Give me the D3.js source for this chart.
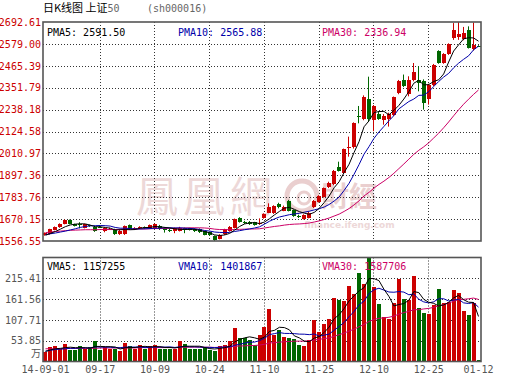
<!DOCTYPE html>
<html><head><meta charset="utf-8">
<script src="https://cdn.jsdelivr.net/npm/d3@7"></script>
<style>
html,body{margin:0;padding:0;background:#fff;}
svg{display:block;}
text{font-family:"DejaVu Sans Mono",monospace;font-size:10px;}
</style></head><body>
<svg id="c" width="530" height="391"></svg>
<script>
// ---------- data ----------
const dates = [
"2014-09-01","2014-09-02","2014-09-03","2014-09-04","2014-09-05","2014-09-09","2014-09-10","2014-09-11","2014-09-12",
"2014-09-15","2014-09-16","2014-09-17","2014-09-18","2014-09-19","2014-09-22","2014-09-23","2014-09-24","2014-09-25","2014-09-26",
"2014-09-29","2014-09-30","2014-10-08","2014-10-09","2014-10-10","2014-10-13","2014-10-14","2014-10-15","2014-10-16","2014-10-17",
"2014-10-20","2014-10-21","2014-10-22","2014-10-23","2014-10-24","2014-10-27","2014-10-28","2014-10-29","2014-10-30","2014-10-31",
"2014-11-03","2014-11-04","2014-11-05","2014-11-06","2014-11-07","2014-11-10","2014-11-11","2014-11-12","2014-11-13","2014-11-14",
"2014-11-17","2014-11-18","2014-11-19","2014-11-20","2014-11-21","2014-11-24","2014-11-25","2014-11-26","2014-11-27","2014-11-28",
"2014-12-01","2014-12-02","2014-12-03","2014-12-04","2014-12-05","2014-12-08","2014-12-09","2014-12-10","2014-12-11","2014-12-12",
"2014-12-15","2014-12-16","2014-12-17","2014-12-18","2014-12-19","2014-12-22","2014-12-23","2014-12-24","2014-12-25","2014-12-26",
"2014-12-29","2014-12-30","2014-12-31","2015-01-05","2015-01-06","2015-01-07","2015-01-08","2015-01-09","2015-01-12"];
const open = [1588,1593,1615,1628,1645,1666,1643,1643,1626,1638,1630,1631,1609,1617,1617,1591,1591,1639,1619,1624,1629,1625,1626,1636,1625,1614,1606,1609,1622,1622,1619,1619,1606,1603,1582,1568,1591,1608,1625,1675,1657,1657,1653,1643,1675,1704,1700,1748,1714,1765,1717,1688,1671,1677,1731,1760,1786,1835,1851,1942,1911,2040,2042,2204,2188,2292,2184,2217,2186,2190,2212,2324,2393,2319,2393,2393,2388,2295,2367,2541,2480,2527,2610,2617,2603,2651,2551,2570];
const high = [1601,1620,1632,1648,1668,1668,1646,1654,1646,1641,1633,1636,1627,1626,1620,1614,1637,1642,1628,1633,1632,1642,1646,1640,1628,1620,1626,1630,1626,1625,1622,1622,1609,1606,1585,1592,1620,1634,1673,1680,1661,1660,1656,1674,1700,1752,1742,1755,1740,1770,1720,1693,1695,1708,1769,1794,1834,1864,1925,1968,2036,2098,2172,2257,2312,2409,2262,2230,2215,2222,2306,2392,2420,2411,2480,2463,2395,2372,2475,2546,2531,2582,2687,2692,2667,2670,2690,2572];
const low = [1584,1590,1612,1625,1643,1643,1632,1622,1622,1630,1604,1624,1602,1614,1588,1588,1588,1614,1615,1620,1620,1622,1623,1614,1600,1603,1597,1606,1597,1611,1603,1598,1586,1583,1557,1565,1588,1605,1622,1652,1645,1640,1636,1640,1672,1701,1697,1726,1711,1710,1682,1676,1668,1674,1728,1756,1782,1831,1846,1917,1906,1994,2036,2167,2183,2175,2126,2185,2160,2150,2205,2318,2355,2307,2385,2333,2238,2264,2360,2476,2476,2522,2600,2600,2598,2555,2545,2564];
const close = [1597,1617,1629,1645,1665,1646,1635,1637,1643,1633,1608,1628,1623,1621,1591,1611,1634,1617,1625,1628,1625,1639,1643,1617,1613,1606,1623,1626,1614,1614,1606,1601,1589,1586,1560,1589,1617,1630,1669,1657,1650,1643,1639,1648,1697,1735,1739,1731,1735,1714,1686,1680,1692,1704,1765,1790,1830,1859,1920,1920,2032,2043,2167,2199,2305,2188,2257,2191,2203,2215,2302,2388,2359,2393,2432,2376,2272,2367,2471,2480,2527,2578,2653,2630,2637,2559,2573,2566];
const ma5 = [1586,1596,1606,1618,1631,1640,1644,1646,1645,1639,1631,1630,1627,1623,1614,1615,1616,1615,1616,1623,1626,1627,1632,1630,1627,1624,1620,1617,1616,1617,1617,1612,1605,1599,1588,1585,1588,1596,1613,1632,1645,1650,1652,1647,1655,1672,1692,1710,1727,1731,1721,1709,1701,1695,1705,1726,1756,1790,1833,1864,1912,1955,2016,2072,2149,2180,2223,2228,2229,2211,2234,2260,2293,2331,2375,2390,2366,2368,2384,2393,2423,2485,2542,2574,2605,2611,2610,2593];
const ma10 = [1590,1594,1598,1603,1608,1614,1620,1627,1632,1635,1636,1637,1636,1634,1627,1623,1623,1621,1619,1619,1620,1621,1623,1623,1625,1625,1624,1625,1623,1622,1620,1616,1611,1608,1603,1601,1600,1601,1606,1610,1615,1619,1624,1630,1644,1659,1671,1681,1687,1693,1697,1700,1706,1711,1718,1724,1733,1746,1764,1785,1819,1856,1903,1953,2007,2046,2089,2122,2151,2180,2207,2242,2261,2280,2293,2312,2313,2331,2358,2384,2407,2426,2455,2479,2499,2517,2548,2567];
const ma30 = [1600,1603,1606,1608,1610,1612,1613,1614,1615,1615,1615,1616,1616,1616,1616,1617,1617,1618,1618,1619,1619,1620,1621,1621,1622,1622,1623,1623,1624,1625,1625,1625,1624,1622,1618,1616,1616,1615,1616,1617,1618,1619,1619,1620,1624,1628,1632,1635,1639,1642,1644,1645,1647,1650,1655,1661,1668,1676,1686,1696,1710,1725,1744,1765,1790,1809,1831,1850,1867,1886,1908,1932,1956,1981,2006,2027,2045,2066,2091,2116,2144,2174,2206,2237,2266,2292,2317,2340];
// volume in 万
const volume = [25,37,40,33,45,30,31,40,33,37,54,31,37,33,33,28,47,40,33,43,33,40,43,33,33,33,33,54,45,33,33,33,37,31,28,40,43,54,87,61,61,56,42,68,89,135,69,82,64,60,57,43,40,56,107,77,97,109,164,159,157,195,175,228,201,275,194,149,116,109,151,213,161,159,221,138,126,123,145,187,152,155,185,177,131,120,151,4];
const vma5 = [26,30,33,34,36,37,35.8,35.8,35.8,34.2,39,39,38.4,38.4,37.6,32.4,35.6,36.2,36.2,38.2,39.2,37.8,38.4,38.4,36.4,36.4,35,37.2,39.6,39.6,39.6,39.6,36.2,33.4,32.4,33.8,35.8,39.2,50.4,57,61.2,63.8,61.4,57.6,63.2,78,80.6,88.6,87.8,82,66.4,61.2,52.8,51.2,60.6,64.6,75.4,89.2,110.8,121.2,137.2,156.8,170,182.8,191.2,214.8,214.6,209.4,187,168.6,143.8,147.6,150,158.6,181,178.4,161,153.4,150.6,143.8,146.6,152.4,164.8,171.2,160,153.6,152.8,116.6];
const vma10 = [27,29,31,32,33,34,34,35,35,35.1,38,37.4,37.1,37.1,35.9,35.7,37.3,37.3,37.3,37.9,35.8,36.7,37.3,37.3,37.3,37.8,36.4,37.8,39,38,38,37.3,36.7,36.5,36,36.7,37.7,37.7,41.9,44.7,47.5,49.8,50.3,54,60.1,69.6,72.2,75,72.7,72.6,72.2,70.9,70.7,69.5,71.3,65.5,68.3,71,81,90.9,100.9,116.1,129.6,146.8,156.2,176,185.7,189.7,184.9,179.9,179.3,181.1,179.7,172.8,174.8,161.1,154.3,151.7,154.6,162.4,162.5,156.7,159.1,160.9,151.9,150.1,152.6,140.7];
const vma30 = [33,33,33,33,34,34,34,34,34,34,34,35,35,35,35,35,35,35,35,36,36,36,36,36,36,36,36,37,37,37,37.3,37.1,37,37,36.4,36.7,37.1,37.6,39.4,40.2,40.4,41.3,41.4,42.6,44.5,48,48.8,50.2,51.2,51.8,52.6,52.7,52.6,53.3,55.8,57.3,59.4,61.2,65.2,69.4,73.5,78.9,83.5,90.1,95.9,103.7,108.7,111.9,112.9,114.5,117.5,122.7,126.7,129.7,134.1,134.2,136.1,137.5,140.2,144.4,147.6,151.3,156.1,160.2,161,162.4,164.2,160.7];
const priceTicks = [2692.61,2579.00,2465.39,2351.79,2238.18,2124.58,2010.97,1897.36,1783.76,1670.15,1556.55];
const volTicks = [215.41,161.56,107.71,53.85];
const volMax = 269.26;
const xTickDates = ["2014-09-01","2014-09-17","2014-10-09","2014-10-24","2014-11-10","2014-11-25","2014-12-10","2014-12-25","2015-01-12"];
const xTickLabels = ["14-09-01","09-17","10-09","10-24","11-10","11-25","12-10","12-25","01-12"];
const priceLegend = ["PMA5: 2591.50","PMA10: 2565.88","PMA30: 2336.94"];
const volLegend = ["VMA5: 1157255","VMA10: 1401867","VMA30: 1587706"];

// ---------- layout ----------
const L=43, R=481, mT=22, mB=241, vT=257.5, vB=361.5;
const RED="#cc0000", GREEN="#006600", MAC=["#000000","#0000aa","#cc0066"];
const svg = d3.select("#c");

const x = d3.scaleBand().domain(dates).range([L,R]).paddingInner(0.2).paddingOuter(0.1);
const cx = d => x(d) + x.bandwidth()/2;
const yP = d3.scaleLinear().domain([priceTicks[priceTicks.length-1], priceTicks[0]]).range([mB, mT]);
const yV = d3.scaleLinear().domain([0, volMax]).range([vB, vT]);

const defs = svg.append("defs");
defs.append("clipPath").attr("id","cm").append("rect").attr("x",L).attr("y",mT).attr("width",R-L).attr("height",mB-mT);
defs.append("clipPath").attr("id","cv").append("rect").attr("x",L).attr("y",vT).attr("width",R-L).attr("height",vB-vT);

// title
const title = svg.append("text").attr("x",43).attr("y",12);
title.append("tspan").style("font-family","'Noto Sans CJK SC'").style("font-size","11px").attr("fill","#000").text("日K线图 上证");
title.append("tspan").attr("fill","#666").style("font-size","10px").text("50");
svg.append("text").attr("x",147).attr("y",12).attr("fill","#666").text("(sh000016)");

// watermark
const wm = svg.append("g").attr("opacity",0.9);
wm.append("text").attr("x",136).attr("y",212).style("font-family","'Noto Sans CJK TC'").style("font-size","42px")
  .style("letter-spacing","5px").attr("fill","#ecd4d4").text("鳳凰網");
wm.append("circle").attr("cx",302).attr("cy",196).attr("r",15).attr("fill","none").attr("stroke","#e8caca").attr("stroke-width",5);
wm.append("circle").attr("cx",304).attr("cy",198).attr("r",6).attr("fill","none").attr("stroke","#e8caca").attr("stroke-width",3);
wm.append("text").attr("x",321).attr("y",207).style("font-family","'Noto Sans CJK TC'").style("font-size","28px").style("font-weight","bold")
  .attr("fill","#e8caca").text("財經");
wm.append("text").attr("x",304).attr("y",228).style("font-family","'DejaVu Sans'").style("font-size","9px").style("font-weight","bold")
  .attr("fill","#ecd4d4").text("finance.ifeng.com");

// gridlines
function hGrid(scale, vals, x0, x1){
  const g = svg.append("g").attr("transform",`translate(${x0},0)`)
    .call(d3.axisLeft(scale).tickValues(vals).tickSize(-(x1-x0)).tickFormat(""));
  g.select(".domain").remove();
  g.selectAll("line").attr("stroke","#333").attr("stroke-dasharray","1,2").attr("shape-rendering","crispEdges");
}
hGrid(yP, priceTicks.slice(1,-1), L, R);
hGrid(yV, volTicks, L, R);
const vxDates = xTickDates.slice(1,-1);
[[mT,mB],[vT,vB]].forEach(([a,b])=>{
  svg.append("g").selectAll("line").data(vxDates).join("line")
    .attr("x1",d=>Math.floor(cx(d))+0.5).attr("x2",d=>Math.floor(cx(d))+0.5)
    .attr("y1",a).attr("y2",b).attr("stroke","#333").attr("stroke-dasharray","1,2");
});

// candles
const idx = d3.range(dates.length);
const colr = i => close[i] >= open[i] ? RED : GREEN;
const cg = svg.append("g").attr("clip-path","url(#cm)");
cg.selectAll("line.w").data(idx).join("line").attr("class","w")
  .attr("x1",i=>Math.round(x(dates[i]))+1.5).attr("x2",i=>Math.round(x(dates[i]))+1.5)
  .attr("y1",i=>yP(high[i])).attr("y2",i=>yP(low[i])).attr("stroke",colr).attr("stroke-width",1);
cg.selectAll("rect").data(idx).join("rect")
  .attr("x",i=>Math.round(x(dates[i]))).attr("width",4)
  .attr("y",i=>yP(Math.max(open[i],close[i])))
  .attr("height",i=>Math.max(1, Math.abs(yP(open[i])-yP(close[i]))))
  .attr("fill",colr).attr("shape-rendering","crispEdges");

// MA lines price
const lineP = d3.line().x((d,i)=>cx(dates[i])).y(d=>yP(d));
[ma30,ma10,ma5].forEach((arr,k)=>{
  cg.append("path").datum(arr).attr("d",lineP).attr("fill","none").attr("stroke",MAC[2-k]).attr("stroke-width",1);
});

// volume bars
const vg = svg.append("g").attr("clip-path","url(#cv)");
vg.selectAll("rect").data(idx).join("rect")
  .attr("x",i=>Math.round(x(dates[i]))).attr("width",4)
  .attr("y",i=>yV(volume[i])).attr("height",i=>vB-yV(volume[i]))
  .attr("fill",colr).attr("shape-rendering","crispEdges");
const lineV = d3.line().x((d,i)=>cx(dates[i])).y(d=>yV(d));
[vma30,vma10,vma5].forEach((arr,k)=>{
  vg.append("path").datum(arr).attr("d",lineV).attr("fill","none").attr("stroke",MAC[2-k]).attr("stroke-width",1);
});

// panel borders
[[mT,mB],[vT,vB]].forEach(([a,b])=>{
  svg.append("rect").attr("x",L).attr("y",a).attr("width",R-L).attr("height",b-a)
    .attr("fill","none").attr("stroke","#555").attr("stroke-width",1.6);
});

// axes
const ya = svg.append("g").attr("transform",`translate(${L},0)`)
  .call(d3.axisLeft(yP).tickValues(priceTicks).tickFormat(d3.format(".2f")).tickSize(0).tickPadding(2));
ya.select(".domain").remove();
ya.selectAll("text").attr("fill",RED).style("font-family","'DejaVu Sans Mono'").style("font-size","10px");

const va = svg.append("g").attr("transform",`translate(${L},0)`)
  .call(d3.axisLeft(yV).tickValues(volTicks).tickFormat(d3.format(".2f")).tickSize(0).tickPadding(2));
va.select(".domain").remove();
va.selectAll("text").attr("fill","#555").style("font-family","'DejaVu Sans Mono'").style("font-size","10px");
svg.append("text").attr("x",41).attr("y",357).attr("text-anchor","end").attr("fill","#555")
  .style("font-family","'Noto Sans CJK SC'").style("font-size","10px").text("万");

const xa = svg.append("g").attr("transform",`translate(0,${vB})`)
  .call(d3.axisBottom(x).tickValues(xTickDates).tickFormat(d=>xTickLabels[xTickDates.indexOf(d)]).tickSize(0).tickPadding(4));
xa.select(".domain").remove();
xa.selectAll("text").attr("fill","#555").style("font-family","'DejaVu Sans Mono'").style("font-size","10px");

// legends
const lx = [47,178,322];
svg.selectAll("text.pl").data(priceLegend).join("text").attr("class","pl")
  .attr("x",(d,i)=>lx[i]).attr("y",36).attr("fill",(d,i)=>MAC[i]).text(d=>d);
svg.selectAll("text.vl").data(volLegend).join("text").attr("class","vl")
  .attr("x",(d,i)=>lx[i]).attr("y",270).attr("fill",(d,i)=>MAC[i]).text(d=>d);
</script>
</body></html>
